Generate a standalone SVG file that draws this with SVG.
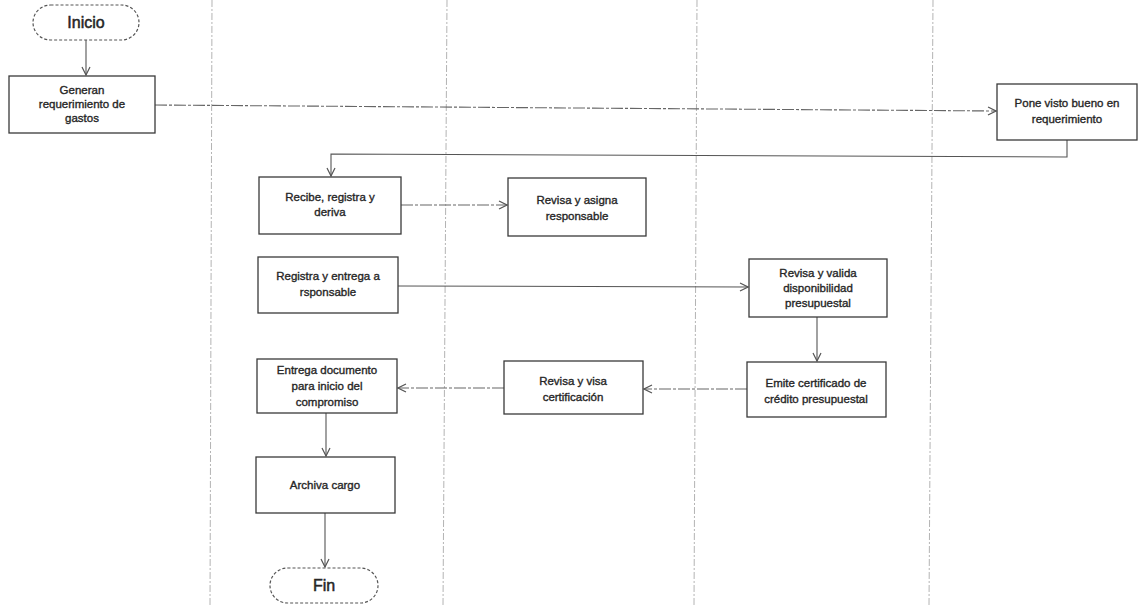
<svg xmlns="http://www.w3.org/2000/svg" width="1143" height="607" viewBox="0 0 1143 607">
  <style>
    .lane { stroke: #b4b4b4; stroke-width: 1; stroke-dasharray: 7 2 2 2; fill: none; }
    .box { fill: #ffffff; stroke: #3a3a3a; stroke-width: 1.3; }
    .term { fill: #ffffff; stroke: #555555; stroke-width: 1.2; stroke-dasharray: 3 2; }
    .lbl { font-family: "Liberation Sans", Arial, sans-serif; font-size: 11.5px; fill: #262626; stroke: #262626; stroke-width: 0.35; text-anchor: middle; }
    .big { font-family: "Liberation Sans", Arial, sans-serif; font-size: 16px; fill: #262626; stroke: #262626; stroke-width: 0.5; text-anchor: middle; }
    .flow { stroke: #555555; stroke-width: 1.1; fill: none; marker-end: url(#arrow); }
    .flow-dash { stroke: #666666; stroke-width: 1.1; fill: none; stroke-dasharray: 12 2 3 2; marker-end: url(#arrow); }
  </style>
  <defs>
    <marker id="arrow" viewBox="0 0 10 10" refX="9" refY="5" markerWidth="10" markerHeight="10" markerUnits="userSpaceOnUse" orient="auto">
      <path d="M1,1 L9,5 L1,9" fill="none" stroke="#555555" stroke-width="1.2"/>
    </marker>
  </defs>
  <rect width="1143" height="607" fill="#ffffff"/>

  <!-- swimlane separators -->
  <g id="lanes">
    <line class="lane" x1="212" y1="0" x2="210" y2="607"/>
    <line class="lane" x1="447" y1="0" x2="443" y2="607"/>
    <line class="lane" x1="697" y1="0" x2="694" y2="607"/>
    <line class="lane" x1="933" y1="0" x2="929" y2="607"/>
  </g>

  <!-- connectors -->
  <g id="connectors">
    <line class="flow" x1="86" y1="40" x2="86" y2="75"/>
    <path class="flow-dash" d="M155,105 L996,111"/>
    <path class="flow" d="M1067,140 L1067,157 L331,154 L331,176"/>
    <line class="flow-dash" x1="401" y1="205" x2="507" y2="205"/>
    <line class="flow" x1="398" y1="286" x2="748" y2="287"/>
    <line class="flow" x1="817" y1="317" x2="817" y2="361"/>
    <line class="flow-dash" x1="747" y1="389" x2="644" y2="389"/>
    <line class="flow-dash" x1="504" y1="388" x2="398" y2="388"/>
    <line class="flow" x1="326" y1="413" x2="326" y2="456"/>
    <line class="flow" x1="325" y1="513" x2="325" y2="567"/>
  </g>

  <g id="inicio">
    <rect class="term" x="33" y="5" width="106" height="35" rx="17.5"/>
    <text class="big" x="86" y="28">Inicio</text>
  </g>

  <g id="generan">
    <rect class="box" x="9" y="76" width="146" height="57"/>
    <text class="lbl" x="82" y="94">Generan</text>
    <text class="lbl" x="82" y="108">requerimiento de</text>
    <text class="lbl" x="82" y="122">gastos</text>
  </g>

  <g id="pone-visto">
    <rect class="box" x="997" y="84" width="140" height="56"/>
    <text class="lbl" x="1067" y="107">Pone visto bueno en</text>
    <text class="lbl" x="1067" y="123">requerimiento</text>
  </g>

  <g id="recibe">
    <rect class="box" x="259" y="177" width="142" height="57"/>
    <text class="lbl" x="330" y="201">Recibe, registra y</text>
    <text class="lbl" x="330" y="216">deriva</text>
  </g>

  <g id="revisa-asigna">
    <rect class="box" x="508" y="178" width="138" height="58"/>
    <text class="lbl" x="577" y="204">Revisa y asigna</text>
    <text class="lbl" x="577" y="220">responsable</text>
  </g>

  <g id="registra-entrega">
    <rect class="box" x="258" y="257" width="140" height="56"/>
    <text class="lbl" x="328" y="280">Registra y entrega a</text>
    <text class="lbl" x="328" y="296">rsponsable</text>
  </g>

  <g id="revisa-valida">
    <rect class="box" x="749" y="259" width="138" height="58"/>
    <text class="lbl" x="818" y="277">Revisa y valida</text>
    <text class="lbl" x="818" y="292">disponibilidad</text>
    <text class="lbl" x="818" y="307">presupuestal</text>
  </g>

  <g id="emite">
    <rect class="box" x="747" y="362" width="139" height="55"/>
    <text class="lbl" x="816" y="387">Emite certificado de</text>
    <text class="lbl" x="816" y="403">crédito presupuestal</text>
  </g>

  <g id="revisa-visa">
    <rect class="box" x="504" y="361" width="139" height="53"/>
    <text class="lbl" x="573" y="385">Revisa y visa</text>
    <text class="lbl" x="573" y="401">certificación</text>
  </g>

  <g id="entrega">
    <rect class="box" x="257" y="359" width="140" height="54"/>
    <text class="lbl" x="327" y="374">Entrega documento</text>
    <text class="lbl" x="327" y="390">para inicio del</text>
    <text class="lbl" x="327" y="406">compromiso</text>
  </g>

  <g id="archiva">
    <rect class="box" x="256" y="457" width="139" height="56"/>
    <text class="lbl" x="325" y="489">Archiva cargo</text>
  </g>

  <g id="fin">
    <rect class="term" x="270" y="568" width="108" height="35" rx="17.5"/>
    <text class="big" x="324" y="591">Fin</text>
  </g>
</svg>
